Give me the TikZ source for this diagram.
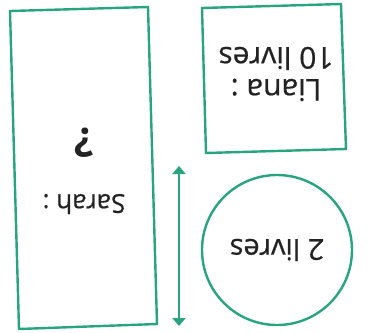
\documentclass[tikz,border=0pt]{standalone}
\usepackage{fontspec}
\setmainfont{Open Sans}
\newfontfamily\heavy{Open Sans}[FakeBold=0.6]
\usetikzlibrary{arrows.meta}
\definecolor{tealg}{RGB}{40,165,128}
\definecolor{txt}{RGB}{35,35,35}
\begin{document}
\begin{tikzpicture}[x=1pt,y=-1pt,
  shapeline/.style={draw=tealg,line width=2.4pt},
  lbl/.style={rotate=180,text=txt,align=center,inner sep=0pt}]
\useasboundingbox (0,0) rectangle (368,333);
% tall rectangle
\draw[shapeline] (10,11) -- (148,7) -- (157,324) -- (19,329) -- cycle;
% square
\draw[shapeline] (202,8) -- (341,4) -- (346,149) -- (206,153) -- cycle;
% circle
\node[shapeline,circle,minimum size=150pt,inner sep=0pt] (c) at (277,250) {};
% labels
\node[lbl,font=\heavy\fontsize{26}{30}\selectfont] (sarah) at (84,204) {Sarah :};
\node[lbl,font=\bfseries\fontsize{40}{42}\selectfont] (q) at (84,143) {?};
\node[lbl,font=\heavy\fontsize{30}{32}\selectfont] (liana) at (276,74) {Liana :\\10 livres};
\node[lbl,font=\heavy\fontsize{29}{32}\selectfont] (deux) at (277,250) {2 livres};
% arrow
\coordinate (at) at (179,166);
\coordinate (ab) at (179,326);
\draw[draw=tealg,line width=2pt,{Triangle[length=8pt,width=13pt]}-{Triangle[length=8pt,width=13pt]}] (at) -- (ab);
\end{tikzpicture}
\end{document}
